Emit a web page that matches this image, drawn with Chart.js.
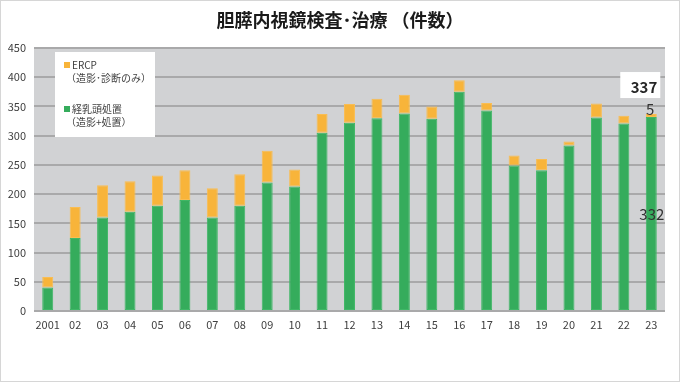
<!DOCTYPE html>
<html>
<head>
<meta charset="utf-8">
<script src="https://cdn.jsdelivr.net/npm/chart.js@4"></script>
<style>
  html, body { margin: 0; padding: 0; background: #fff; }
  #wrap { width: 680px; height: 382px; }
</style>
</head>
<body>
<div id="wrap"><canvas id="chart"></canvas></div>
<script>
const years = ['2001', '02', '03', '04', '05', '06', '07', '08', '09', '10', '11', '12',
    '13', '14', '15', '16', '17', '18', '19', '20', '21', '22', '23'];
const treatment = [40, 125, 160, 170, 180, 190, 160, 180, 220, 213, 305, 322,
    330, 338, 329, 375, 343, 249, 241, 283, 331, 321, 332];
const ercpOnly = [18, 53, 55, 52, 52, 51, 50, 54, 54, 29, 32, 32,
    33, 32, 21, 20, 13, 17, 19, 7, 24, 13, 5];
const legendLines = [
    ['ERCP', '（造影･診断のみ）'],
    ['経乳頭処置', '（造影+処置）']
];

const GREEN = '#35ac5c';
const ORANGE = '#f8b43a';
const FONT = '"Noto Sans CJK JP", "Noto Sans", sans-serif';

// gray plot background + frame
const plotBg = {
    id: 'plotBg',
    beforeDraw(chart) {
        const { ctx, chartArea: a } = chart;
        ctx.save();
        ctx.fillStyle = '#d1d2d4';
        ctx.fillRect(a.left, a.top, a.right - a.left, a.bottom - a.top);
        ctx.strokeStyle = '#d6d6d6';
        ctx.lineWidth = 1;
        ctx.strokeRect(0.5, 0.5, chart.width - 1, chart.height - 1);
        ctx.restore();
    }
};

// legend box inside the plot
const boxLegend = {
    id: 'boxLegend',
    afterDatasetsDraw(chart) {
        const { ctx } = chart;
        const x = 55, y = 52;
        ctx.save();
        ctx.fillStyle = '#fff';
        ctx.fillRect(x, y, 100, 85);
        ctx.font = '10px ' + FONT;
        ctx.textBaseline = 'middle';
        const items = [
            { color: ORANGE, top: y + 13 },
            { color: GREEN, top: y + 57 }
        ];
        items.forEach((it, i) => {
            ctx.fillStyle = it.color;
            ctx.fillRect(x + 9, it.top - 3, 6, 6);
            ctx.fillStyle = '#404040';
            ctx.fillText(legendLines[i][0], x + 17, it.top);
            ctx.fillText(legendLines[i][1], x + 11, it.top + 13);
        });
        ctx.restore();
    }
};

// labels on the last bar
const lastLabels = {
    id: 'lastLabels',
    afterDatasetsDraw(chart) {
        const { ctx, scales } = chart;
        const i = years.length - 1;
        const xc = scales.x.getPixelForValue(i);
        const total = treatment[i] + ercpOnly[i];
        const yTop = scales.y.getPixelForValue(total);
        const yMid = scales.y.getPixelForValue(treatment[i] / 2);
        ctx.save();
        ctx.fillStyle = '#fff';
        ctx.fillRect(xc - 31, yTop - 42, 40, 26);
        ctx.fillStyle = '#262626';
        ctx.font = 'bold 15px ' + FONT;
        ctx.textBaseline = 'middle';
        ctx.textAlign = 'right';
        ctx.fillText(String(total), xc + 6, yTop - 27);
        ctx.font = '15px ' + FONT;
        ctx.fillStyle = '#333';
        ctx.textAlign = 'center';
        ctx.fillText(String(ercpOnly[i]), xc - 1, yTop - 5);
        ctx.textAlign = 'right';
        ctx.fillText(String(treatment[i]), xc + 13, yMid);
        ctx.restore();
    }
};

new Chart(document.getElementById('chart'), {
    type: 'bar',
    data: {
        labels: years,
        datasets: [
            {
                label: legendLines[1].join(''),
                data: treatment,
                backgroundColor: GREEN,
                borderColor: '#3fb766',
                borderWidth: 1,
                borderSkipped: false
            },
            {
                label: legendLines[0].join(''),
                data: ercpOnly,
                backgroundColor: ORANGE,
                borderColor: '#f9bd52',
                borderWidth: 1,
                borderSkipped: false
            }
        ]
    },
    options: {
        responsive: true,
        maintainAspectRatio: false,
        animation: false,
        datasets: { bar: { barPercentage: 0.8, categoryPercentage: 0.5 } },
        layout: { padding: 0 },
        plugins: {
            legend: { display: false },
            tooltip: { enabled: false },
            title: {
                display: true,
                text: '胆膵内視鏡検査･治療 （件数）',
                color: '#1a1a1a',
                font: { family: FONT, size: 18, weight: 'bold' },
                padding: { top: 9, bottom: 17.4 }
            }
        },
        scales: {
            x: {
                stacked: true,
                grid: { display: false, drawTicks: false },
                border: { display: false },
                ticks: { color: '#404040', font: { family: FONT, size: 11 }, padding: 7, maxRotation: 0, autoSkip: false },
                afterFit(s) { s.height = 71; }
            },
            y: {
                stacked: true,
                min: 0,
                max: 450,
                grid: { color: '#a9a9aa', lineWidth: 2, drawTicks: false },
                border: { display: false },
                ticks: { stepSize: 50, color: '#404040', font: { family: FONT, size: 11 }, padding: 8 },
                afterFit(s) { s.width = 34; }
            },
            // empty right margin so the title stays centred on the page
            yRight: {
                position: 'right',
                min: 0,
                max: 450,
                grid: { display: false, drawTicks: false },
                border: { display: false },
                ticks: { display: false },
                afterFit(s) { s.width = 15; }
            }
        }
    },
    plugins: [plotBg, boxLegend, lastLabels]
});
</script>
</body>
</html>
